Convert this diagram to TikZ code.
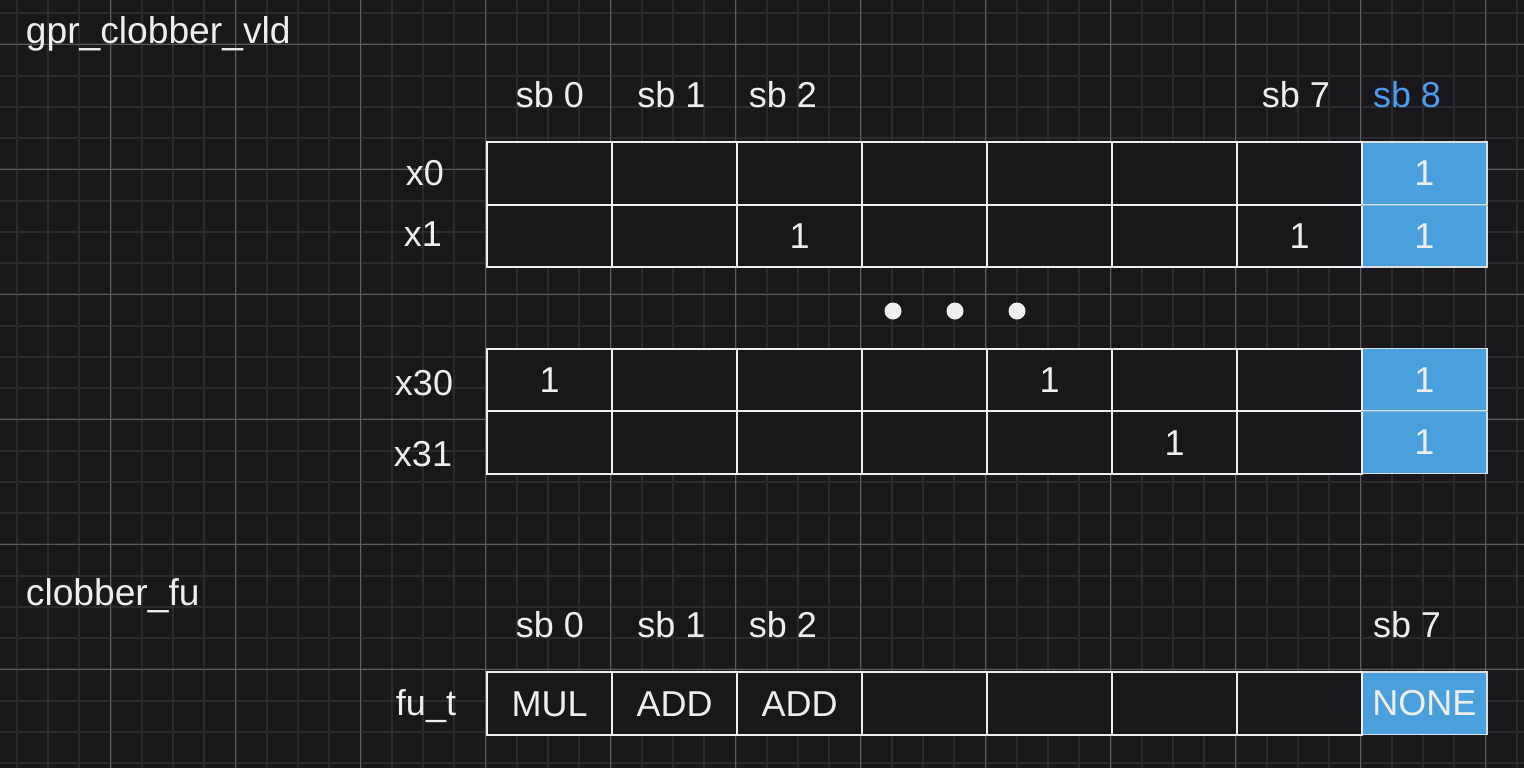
\documentclass[tikz,border=0pt]{standalone}
\usepackage{fontspec}
\setmainfont{Liberation Sans}
\definecolor{bg}{HTML}{19171C}
\definecolor{minorgrid}{HTML}{2B2A2F}
\definecolor{majorgrid}{HTML}{5C5B60}
\definecolor{fg}{HTML}{EEEEEE}
\definecolor{hl}{HTML}{4AA0DC}
\definecolor{hlsep}{HTML}{7DB9E6}
\definecolor{hlborder}{HTML}{D8DDE2}
\definecolor{hltext}{HTML}{4C9CF0}
\begin{document}
\begin{tikzpicture}[x=0.5pt,y=-0.5pt,
  txt/.style={text=fg,font=\fontsize{18}{21}\selectfont,inner sep=0pt},
  minorline/.style={draw=minorgrid,line width=1pt},
  majorline/.style={draw=majorgrid,line width=0.55pt},
  cell/.style={rectangle,anchor=north west,draw=fg,fill=bg,line width=1.1pt,
    minimum width=62.5pt,minimum height=31.25pt,inner sep=0pt},
  hlcell/.style={cell,draw=hlborder,fill=hl,line width=0.8pt},
  val/.style={txt,text height=12.9pt,text depth=0pt},
  hdr/.style={txt,anchor=base},
  rowlab/.style={txt,anchor=base},
  title/.style={txt,anchor=base west,font=\fontsize{18.6}{21}\selectfont}]
\fill[bg] (0,0) rectangle (1524,768);
\useasboundingbox (0,0) rectangle (1524,768);
% grid
\foreach \i in {0,...,48} \draw[minorline] ({16.95+31.25*\i},0) -- ++(0,768);
\foreach \j in {0,...,24} \draw[minorline] (0,{13.05+31.25*\j}) -- ++(1524,0);
\foreach \i in {0,...,11} \draw[majorline] ({110.7+125*\i},0) -- ++(0,768);
\foreach \j in {0,...,5} \draw[majorline] (0,{44.3+125*\j}) -- ++(1524,0);
% titles
\node[title] (t1) at (25.5,43.3) {gpr\_clobber\_vld};
\node[title] (t2) at (25.5,605.5) {clobber\_fu};
% headers top
\node[hdr] (h0) at (550,107.3) {sb 0};
\node[hdr] (h1) at (671.5,107.3) {sb 1};
\node[hdr] (h2) at (783,107.3) {sb 2};
\node[hdr] (h7) at (1296,107.3) {sb 7};
\node[hdr,text=hltext] (h8) at (1407,107.3) {sb 8};
% headers bottom
\node[hdr] (g0) at (550,637.3) {sb 0};
\node[hdr] (g1) at (671.5,637.3) {sb 1};
\node[hdr] (g2) at (783,637.3) {sb 2};
\node[hdr] (g7) at (1407,637.3) {sb 7};
% row labels
\node[rowlab] (la) at (425,185) {x0};
\node[rowlab] (lb) at (423,246.7) {x1};
\node[rowlab] (lc) at (424,395) {x30};
\node[rowlab] (ld) at (423,466) {x31};
\node[rowlab] (lf) at (426,715) {fu\_t};
% cells
\foreach \name/\top in {a/141,b/203.5,c/347.5,d/410,f/671}{
  \node[hlcell] (\name7) at (1361,\top) {};
  \foreach \c in {0,...,6}
    \node[cell] (\name\c) at ({486+125*\c},\top) {};
}
\draw[hlsep,line width=0.5pt] (a7.south west) -- (a7.south east);
\draw[hlsep,line width=0.5pt] (c7.south west) -- (c7.south east);
% values
\node[val] at (a7) {1};
\node[val] at (b2) {1};
\node[val] at (b6) {1};
\node[val] at (b7) {1};
\node[val] at (c0) {1};
\node[val] at (c4) {1};
\node[val] at (c7) {1};
\node[val] at (d5) {1};
\node[val] at (d7) {1};
\node[val] at (f0) {MUL};
\node[val] at (f1) {ADD};
\node[val] at (f2) {ADD};
\node[val] at (f7) {NONE};
% ellipsis dots
\fill[fg] (893,311) circle[radius=8.5];
\fill[fg] (955,311) circle[radius=8.5];
\fill[fg] (1017,311) circle[radius=8.5];
\end{tikzpicture}
\end{document}
